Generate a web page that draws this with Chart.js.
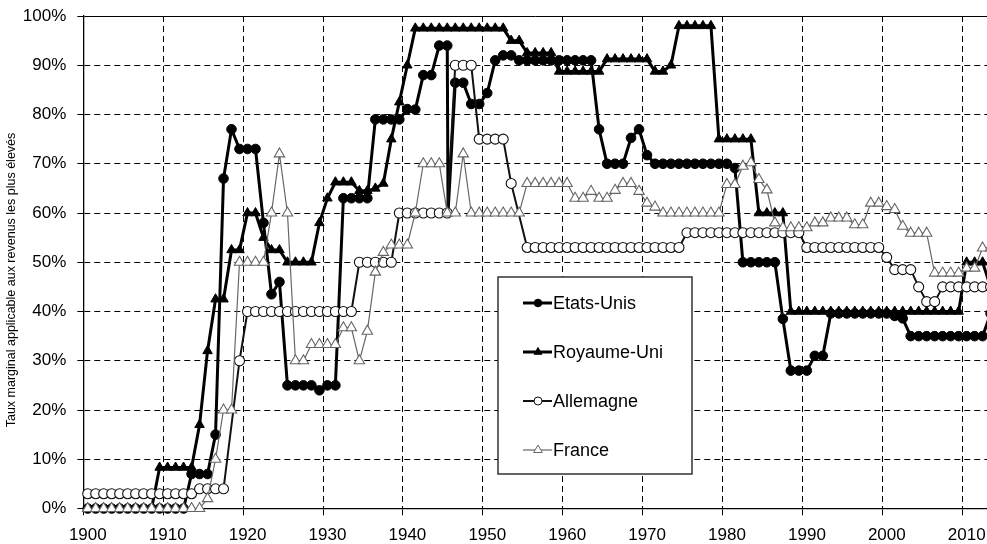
<!DOCTYPE html>
<html>
<head>
<meta charset="utf-8">
<script src="https://cdn.jsdelivr.net/npm/chart.js@4.4.1/dist/chart.umd.min.js"></script>
<style>
  html, body { margin: 0; padding: 0; background: #fff; overflow: hidden; }
</style>
</head>
<body>
<canvas id="chart" width="987" height="544"></canvas>
<script>
// one value per year, 1900 to 2013
const firstYear = 1900;

const xTickLabels = ['1900', '1910', '1920', '1930', '1940', '1950', '1960', '1970', '1980', '1990', '2000', '2010'];
const yTickValues = [0, 10, 20, 30, 40, 50, 60, 70, 80, 90, 100];
const yTitle = 'Taux marginal applicable aux revenus les plus élevés';

const seriesNames = ['Etats-Unis', 'Royaume-Uni', 'Allemagne', 'France'];

const etatsUnis = [
  0, 0, 0, 0, 0, 0, 0, 0, 0, 0,
  0, 0, 0, 7, 7, 7, 15, 67, 77, 73,
  73, 73, 58, 43.5, 46, 25, 25, 25, 25, 24,
  25, 25, 63, 63, 63, 63, 79, 79, 79, 79,
  81.1, 81, 88, 88, 94, 94, 86.45, 86.45, 82.13, 82.13,
  84.36, 91, 92, 92, 91, 91, 91, 91, 91, 91,
  91, 91, 91, 91, 77, 70, 70, 70, 75.25, 77,
  71.75, 70, 70, 70, 70, 70, 70, 70, 70, 70,
  70, 69.13, 50, 50, 50, 50, 50, 38.5, 28, 28,
  28, 31, 31, 39.6, 39.6, 39.6, 39.6, 39.6, 39.6, 39.6,
  39.6, 39.1, 38.6, 35, 35, 35, 35, 35, 35, 35,
  35, 35, 35, 39.6
];
// the US line dips briefly to about 60% just after 1945 in the source figure
const etatsUnisDip = { year: 1945.1, value: 60 };

const royaumeUni = [
  0, 0, 0, 0, 0, 0, 0, 0, 0, 8.33,
  8.33, 8.33, 8.33, 8.33, 17, 32, 42.5, 42.5, 52.5, 52.5,
  60, 60, 55, 52.5, 52.5, 50, 50, 50, 50, 58,
  63, 66.25, 66.25, 66.25, 64.5, 64.5, 65, 66, 75, 82.5,
  90, 97.5, 97.5, 97.5, 97.5, 97.5, 97.5, 97.5, 97.5, 97.5,
  97.5, 97.5, 97.5, 95, 95, 92.5, 92.5, 92.5, 92.5, 88.75,
  88.75, 88.75, 88.75, 88.75, 88.75, 91.25, 91.25, 91.25, 91.25, 91.25,
  91.25, 88.75, 88.75, 90, 98, 98, 98, 98, 98, 75,
  75, 75, 75, 75, 60, 60, 60, 60, 40, 40,
  40, 40, 40, 40, 40, 40, 40, 40, 40, 40,
  40, 40, 40, 40, 40, 40, 40, 40, 40, 40,
  50, 50, 50, 45
];

const allemagne = [
  3, 3, 3, 3, 3, 3, 3, 3, 3, 3,
  3, 3, 3, 3, 4, 4, 4, 4, null, 30,
  40, 40, 40, 40, 40, 40, 40, 40, 40, 40,
  40, 40, 40, 40, 50, 50, 50, 50, 50, 60,
  60, 60, 60, 60, 60, 60, 90, 90, 90, 75,
  75, 75, 75, 66, null, 53, 53, 53, 53, 53,
  53, 53, 53, 53, 53, 53, 53, 53, 53, 53,
  53, 53, 53, 53, 53, 56, 56, 56, 56, 56,
  56, 56, 56, 56, 56, 56, 56, 56, 56, 56,
  53, 53, 53, 53, 53, 53, 53, 53, 53, 53,
  51, 48.5, 48.5, 48.5, 45, 42, 42, 45, 45, 45,
  45, 45, 45, 45
];

const france = [
  0, 0, 0, 0, 0, 0, 0, 0, 0, 0,
  0, 0, 0, 0, 0, 2, 10, 20, 20, 50,
  50, 50, 50, 60, 72, 60, 30, 30, 33.3, 33.3,
  33.3, 33.3, 36.7, 36.7, 30, 36, 48, 52, 53.5, 53.5,
  53.5, 60, 70, 70, 70, 60, 60, 72, 60, 60,
  60, 60, 60, 60, 60, 66, 66, 66, 66, 66,
  66, 63, 63, 64.4, 63, 63, 64.6, 66, 66, 64.4,
  62, 61.2, 60, 60, 60, 60, 60, 60, 60, 60,
  65.8, 65.8, 69.5, 70.2, 66.8, 64.7, 58, 57, 57, 57,
  57, 58, 58, 59, 59, 59, 57.6, 57.6, 62, 62,
  61.3, 60.7, 57.3, 55.9, 55.9, 55.9, 47.8, 47.8, 47.8, 47.8,
  48.8, 48.8, 52.9, 52.9
];

const FONT = "'Liberation Sans', Arial, sans-serif";

function toPoints(values) {
  return values.map((v, i) => ({ x: firstYear + i, y: v }));
}

const usPoints = toPoints(etatsUnis);
const dipAt = usPoints.findIndex(p => p.x > etatsUnisDip.year);
usPoints.splice(dipAt, 0, { x: etatsUnisDip.year, y: etatsUnisDip.value, dip: true });

const styles = [
  { color: '#000', width: 3, point: 'circle', radius: 4.8, fill: '#000', pointBorder: 1, order: 4 },
  { color: '#000', width: 3, point: 'triangle', radius: 5.5, fill: '#000', pointBorder: 1, order: 3 },
  { color: '#111', width: 2, point: 'circle', radius: 5, fill: '#fff', pointBorder: 1.1, order: 2 },
  { color: '#666', width: 1.2, point: 'triangle', radius: 6, fill: '#fff', pointBorder: 1.1, order: 1 }
];

const seriesPoints = [usPoints, toPoints(royaumeUni), toPoints(allemagne), toPoints(france)];

const datasets = seriesPoints.map((pts, i) => ({
  label: seriesNames[i],
  data: pts,
  borderColor: styles[i].color,
  borderWidth: styles[i].width,
  pointStyle: styles[i].point,
  pointRadius: c => (c.raw && c.raw.dip) ? 0 : styles[i].radius,
  pointBackgroundColor: styles[i].fill,
  pointBorderColor: styles[i].color,
  pointBorderWidth: styles[i].pointBorder,
  spanGaps: true,
  tension: 0,
  order: styles[i].order,
  clip: { left: 10, right: 0, top: 10, bottom: 10 }
}));

function drawMarker(ctx, style, x, y, r, fill, stroke, lw) {
  ctx.beginPath();
  if (style === 'circle') {
    ctx.arc(x, y, r, 0, Math.PI * 2);
  } else {
    for (let k = 0; k < 3; k++) {
      const a = k * Math.PI * 2 / 3;
      const px = x + Math.sin(a) * r;
      const py = y - Math.cos(a) * r;
      if (k === 0) ctx.moveTo(px, py); else ctx.lineTo(px, py);
    }
    ctx.closePath();
  }
  ctx.fillStyle = fill;
  ctx.fill();
  ctx.lineWidth = lw;
  ctx.strokeStyle = stroke;
  ctx.stroke();
}

// y axis title and the boxed legend
const overlay = {
  id: 'overlay',
  afterDraw(chart) {
    const ctx = chart.ctx;
    ctx.save();
    ctx.translate(12, 280);
    ctx.rotate(-Math.PI / 2);
    ctx.font = '12.5px ' + FONT;
    ctx.fillStyle = '#000';
    ctx.textAlign = 'center';
    ctx.textBaseline = 'middle';
    ctx.fillText(yTitle, 0, 0);
    ctx.restore();

    const box = { x: 498, y: 277, w: 194, h: 197 };
    ctx.save();
    ctx.fillStyle = '#fff';
    ctx.fillRect(box.x, box.y, box.w, box.h);
    ctx.lineWidth = 1.5;
    ctx.strokeStyle = '#333';
    ctx.strokeRect(box.x, box.y, box.w, box.h);
    seriesNames.forEach((name, i) => {
      const s = styles[i];
      const y = box.y + 26 + i * 49;
      ctx.beginPath();
      ctx.moveTo(box.x + 25, y);
      ctx.lineTo(box.x + 54, y);
      ctx.lineWidth = s.width;
      ctx.strokeStyle = s.color;
      ctx.stroke();
      drawMarker(ctx, s.point, box.x + 40, y, s.radius - 1, s.fill, s.color, 1);
      ctx.font = '18px ' + FONT;
      ctx.fillStyle = '#000';
      ctx.textAlign = 'left';
      ctx.textBaseline = 'middle';
      ctx.fillText(name, box.x + 55, y + 1);
    });
    ctx.restore();
  }
};

new Chart(document.getElementById('chart'), {
  type: 'line',
  data: { datasets: datasets },
  options: {
    responsive: false,
    animation: false,
    devicePixelRatio: 1,
    layout: { autoPadding: false, padding: { top: 16, right: 0, left: 0, bottom: 0 } },
    plugins: { legend: { display: false }, tooltip: { enabled: false } },
    scales: {
      x: {
        type: 'linear',
        min: 1899.45,
        max: 2012.55,
        afterFit: axis => {
          axis.height = 35.5;
          axis.paddingLeft = 0;
          axis.paddingRight = 0;
        },
        afterBuildTicks: axis => {
          axis.ticks = xTickLabels.map(l => ({ value: Number(l) - 0.55 }));
        },
        ticks: {
          callback: (v, i) => xTickLabels[i],
          labelOffset: 4.5,
          autoSkip: false,
          maxRotation: 0,
          padding: 9,
          color: '#000',
          font: { family: FONT, size: 17 }
        },
        grid: { color: '#000', lineWidth: 1, tickLength: 8, tickBorderDash: [6, 4] },
        border: { display: true, color: '#000', width: 1.3, dash: [6, 4] }
      },
      y: {
        min: 0,
        max: 100,
        afterFit: axis => {
          axis.width = 83.3;
          axis.paddingTop = 0;
          axis.paddingBottom = 0;
        },
        afterBuildTicks: axis => {
          axis.ticks = yTickValues.map(v => ({ value: v }));
        },
        ticks: {
          callback: v => v + '%',
          padding: 11,
          color: '#000',
          font: { family: FONT, size: 17 }
        },
        grid: { color: '#000', lineWidth: 1, tickLength: 6 },
        border: {
          display: true,
          color: '#000',
          width: 1.3,
          dash: c => (c.tick && c.tick.value === 100) ? [] : [6, 4]
        }
      }
    }
  },
  plugins: [overlay]
});
</script>
</body>
</html>
